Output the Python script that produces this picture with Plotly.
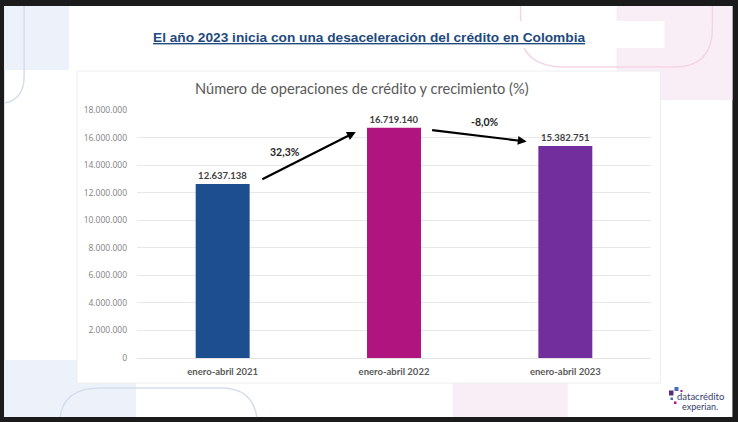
import plotly.graph_objects as go

W, H = 738, 422
L, R, T, B = 137, 651.5, 110, 358

categories = ["enero-abril 2021", "enero-abril 2022", "enero-abril 2023"]
operaciones = [12637138, 16719140, 15382751]
bar_colors = ["#1c4e90", "#b0157f", "#722e9c"]
y_ticks = [0, 2000000, 4000000, 6000000, 8000000, 10000000, 12000000, 14000000, 16000000, 18000000]
growth_labels = ["32,3%", "-8,0%"]


def px(x):
    return (x - L) / (R - L)


def py(y):
    return (B - y) / (B - T)


def rect(x0, y0, x1, y1, fill, line=None):
    return dict(type="rect", xref="paper", yref="paper", layer="below",
                x0=px(x0), x1=px(x1), y0=py(y0), y1=py(y1), fillcolor=fill,
                line=dict(color=line or fill, width=1 if line else 0))


def outline(points, color):
    """Rounded decorative outline given in page pixels."""
    path = ""
    for cmd, pts in points:
        path += cmd + " ".join(f"{px(a):.5f},{py(b):.5f}" for a, b in pts) + " "
    return dict(type="path", xref="paper", yref="paper", layer="below", path=path,
                line=dict(color=color, width=1.5))


def note(text, x, y, size, color, family="Lato", weight="normal"):
    return dict(text=text, xref="paper", yref="paper", x=px(x), y=py(y), showarrow=False,
                xanchor="center", yanchor="middle", borderpad=0,
                font=dict(family=family, size=size, color=color, weight=weight))


def arrow(x0, y0, x1, y1):
    return dict(text="", xref="paper", yref="paper", x=px(x1), y=py(y1), ax=x0 - x1, ay=y0 - y1,
                axref="pixel", ayref="pixel", showarrow=True, arrowhead=2, arrowsize=0.8,
                arrowwidth=2.2, arrowcolor="#000000")


shapes = [
    # page
    rect(4, 6, 733, 417, "#ffffff"),
    # top-left decoration
    rect(4, 6, 69, 70, "#edf1f9"),
    outline([("M", [(24, 6)]), ("L", [(24, 76)]), ("Q", [(24, 100), (4, 103)])], "#d5deec"),
    # top-right decoration
    rect(617, 6, 733, 100, "#f9eef6"),
    outline([("M", [(521, 6)]), ("L", [(521, 30)]), ("Q", [(521, 67), (565, 67)]),
             ("L", [(675, 67)]), ("Q", [(713, 67), (713, 28)]), ("L", [(713, 6)])], "#f3d6e4"),
    rect(369, 21, 665, 48, "#ffffff"),
    # bottom decorations
    rect(4, 360, 136, 417, "#edf1f9"),
    rect(453, 383, 568, 417, "#f9eef6"),
    outline([("M", [(60, 417)]), ("Q", [(64, 388), (100, 388)]), ("L", [(222, 388)]),
             ("Q", [(252, 388), (257, 417)])], "#d5deec"),
    # chart card
    rect(77, 71, 661, 383, "#ffffff", "#eeeeee"),
    # logo squares
    rect(669.5, 390.5, 674, 395.5, "#5b2a78"),
    rect(675, 387, 679, 391, "#3f6fb5"),
    rect(681, 390, 683, 392, "#b0157f"),
    rect(671, 397.5, 673.5, 400, "#3f6fb5"),
    rect(674.5, 401.5, 677, 404, "#b0157f"),
]

fig = go.Figure(go.Bar(
    x=categories, y=operaciones, marker=dict(color=bar_colors, line=dict(width=0)),
    texttemplate="%{y:,d}", textposition="outside", cliponaxis=False,
    textfont=dict(family="Lato", size=9.5, color="#404040", weight="bold"),
))

annotations = [
    note("<u>El año 2023 inicia con una desaceleración del crédito en Colombia</u>",
         369.5, 37.5, 13.7, "#1f4a7d", "Liberation Sans", "bold"),
    note("Número de operaciones de crédito y crecimiento (%)", 362.5, 88, 14.6, "#595959"),
    note(growth_labels[0], 285, 152, 10.5, "#262626", weight="bold"),
    note(growth_labels[1], 485, 122, 10.5, "#262626", weight="bold"),
    arrow(261, 180, 356, 132),
    arrow(431, 130, 527, 141.5),
    note("datacrédito", 701.5, 396, 9.5, "#34406b"),
    note("experian.", 701, 406, 9, "#34406b"),
]

fig.update_layout(
    width=W, height=H, autosize=False,
    margin=dict(l=L, r=W - R, t=T, b=H - B, pad=0),
    paper_bgcolor="#1b1b1b", plot_bgcolor="rgba(0,0,0,0)",
    separators=",.", showlegend=False, bargap=0.685,
    shapes=shapes, annotations=annotations,
    xaxis=dict(tickfont=dict(family="Lato", size=9.5, color="#595959", weight="bold"),
               showline=True, linecolor="#e3e3e3", linewidth=1, ticks="", ticklabelstandoff=5),
    yaxis=dict(range=[0, 18000000], tickvals=y_ticks, tickformat=",d",
               tickfont=dict(family="Open Sans", size=8.5, color="#808080"),
               gridcolor="#e8e8e8", gridwidth=1, zeroline=False, showline=False, ticks="",
               ticklabelstandoff=9),
)

fig.write_html("out.html", config=dict(displayModeBar=False),
               post_script="document.body.style.margin='0';document.body.style.overflow='hidden';")
